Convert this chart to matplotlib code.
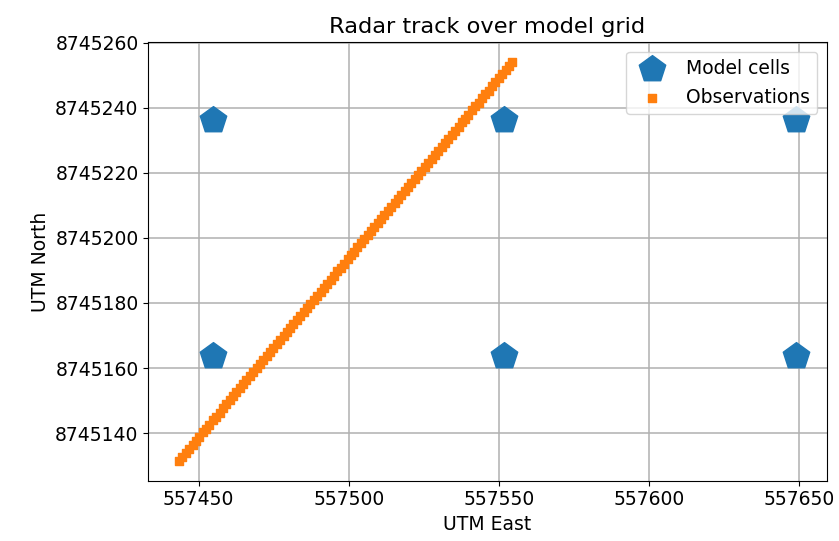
import matplotlib
matplotlib.use("Agg")
import matplotlib.pyplot as plt

# model grid cell centres (UTM)
cell_east = [557454.9, 557551.7, 557649.0, 557454.9, 557551.7, 557649.0]
cell_north = [8745236.1, 8745236.1, 8745236.1, 8745163.6, 8745163.6, 8745163.6]

# radar track observations (UTM)
obs_east = [
    557443.5, 557444.6, 557445.7, 557446.9, 557448.0, 557449.1, 557450.2, 557451.3, 557452.5, 557453.6,
    557454.7, 557455.8, 557457.0, 557458.1, 557459.2, 557460.3, 557461.4, 557462.6, 557463.7, 557464.8,
    557465.9, 557467.0, 557468.2, 557469.3, 557470.4, 557471.5, 557472.7, 557473.8, 557474.9, 557476.0,
    557477.1, 557478.3, 557479.4, 557480.5, 557481.6, 557482.7, 557483.9, 557485.0, 557486.1, 557487.2,
    557488.3, 557489.5, 557490.6, 557491.7, 557492.8, 557494.0, 557495.1, 557496.2, 557497.3, 557498.4,
    557499.6, 557500.7, 557501.8, 557502.9, 557504.0, 557505.2, 557506.3, 557507.4, 557508.5, 557509.7,
    557510.8, 557511.9, 557513.0, 557514.1, 557515.3, 557516.4, 557517.5, 557518.6, 557519.7, 557520.9,
    557522.0, 557523.1, 557524.2, 557525.3, 557526.5, 557527.6, 557528.7, 557529.8, 557531.0, 557532.1,
    557533.2, 557534.3, 557535.4, 557536.6, 557537.7, 557538.8, 557539.9, 557541.0, 557542.2, 557543.3,
    557544.4, 557545.5, 557546.7, 557547.8, 557548.9, 557550.0, 557551.1, 557552.3, 557553.4, 557554.5,
]
obs_north = [
    8745131.5, 8745132.7, 8745134.0, 8745135.2, 8745136.4, 8745137.7, 8745138.9, 8745140.2, 8745141.4, 8745142.6,
    8745143.9, 8745145.1, 8745146.3, 8745147.6, 8745148.8, 8745150.1, 8745151.3, 8745152.5, 8745153.8, 8745155.0,
    8745156.2, 8745157.5, 8745158.7, 8745160.0, 8745161.2, 8745162.4, 8745163.7, 8745164.9, 8745166.1, 8745167.4,
    8745168.6, 8745169.9, 8745171.1, 8745172.3, 8745173.6, 8745174.8, 8745176.0, 8745177.3, 8745178.5, 8745179.8,
    8745181.0, 8745182.2, 8745183.5, 8745184.7, 8745185.9, 8745187.2, 8745188.4, 8745189.7, 8745190.9, 8745192.1,
    8745193.4, 8745194.6, 8745195.8, 8745197.1, 8745198.3, 8745199.6, 8745200.8, 8745202.0, 8745203.3, 8745204.5,
    8745205.7, 8745207.0, 8745208.2, 8745209.5, 8745210.7, 8745211.9, 8745213.2, 8745214.4, 8745215.6, 8745216.9,
    8745218.1, 8745219.4, 8745220.6, 8745221.8, 8745223.1, 8745224.3, 8745225.5, 8745226.8, 8745228.0, 8745229.3,
    8745230.5, 8745231.7, 8745233.0, 8745234.2, 8745235.5, 8745236.7, 8745237.9, 8745239.2, 8745240.4, 8745241.6,
    8745242.9, 8745244.1, 8745245.3, 8745246.6, 8745247.8, 8745249.1, 8745250.3, 8745251.5, 8745252.8, 8745254.0,
]

plt.rcParams['font.size'] = 13.5

fig = plt.figure(figsize=(8.39, 5.41), dpi=100)
ax = fig.add_axes([0.1768, 0.1115, 0.8085, 0.8103])

ax.scatter(cell_east, cell_north, s=400, marker='p', color='#1f77b4', label='Model cells')
ax.scatter(obs_east, obs_north, s=26, marker='s', color='#ff7f0e', label='Observations')

ax.set_title('Radar track over model grid', fontsize=16.2, pad=7)
ax.set_xlabel('UTM East')
ax.set_ylabel('UTM North')
ax.set_xticks([557450, 557500, 557550, 557600, 557650])
ax.ticklabel_format(style='plain', useOffset=False)
ax.grid(True, color='#b0b0b0', linewidth=1.1)
ax.set_axisbelow(True)
ax.legend(loc='upper right')

fig.savefig('out.png', dpi=100)
